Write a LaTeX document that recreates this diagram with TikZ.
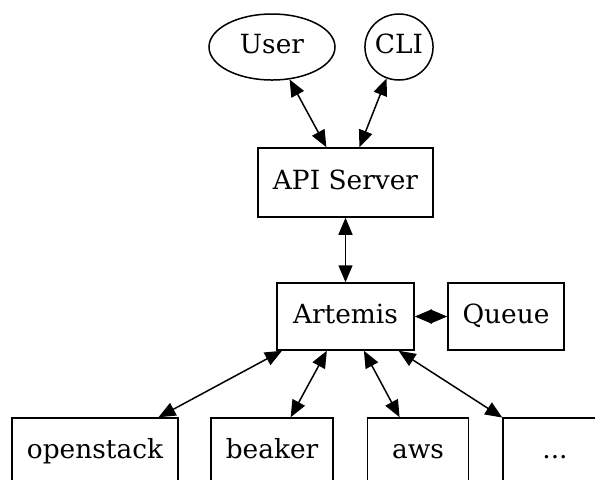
\documentclass[tikz,border=0pt]{standalone}
\usepackage{fontspec}
\setmainfont{DejaVu Serif}
\usetikzlibrary{arrows.meta,shapes.geometric}

\begin{document}
\begin{tikzpicture}[x=0.5pt, y=-0.5pt, >={Triangle[length=8.5pt,width=7pt]},
    font=\fontsize{13.2}{15}\selectfont,
    box/.style={draw, line width=0.75pt, rectangle, inner sep=0pt, minimum height=33.5pt,
      text height=9pt, text depth=2.4pt},
    oval/.style={draw, line width=0.75pt, ellipse, inner sep=0pt, minimum height=33pt,
      text height=9pt, text depth=2.2pt},
    link/.style={<->, line width=0.75pt}]
  \clip (0,0) rectangle (595,479);
  % ---- clients ----
  \node[oval, minimum width=63pt] (user) at (272,47) {User};
  \node[oval, minimum width=33pt] (cli) at (399,47) {CLI};
  % ---- server and backend ----
  \node[box, minimum width=87.5pt, minimum height=34.5pt] (api) at (345.5,182.5) {API Server};
  \node[box, minimum width=68.5pt] (artemis) at (345.5,316.5) {Artemis};
  \node[box, minimum width=58pt] (queue) at (506,316.5) {Queue};
  % ---- providers ----
  \node[box, minimum width=83pt] (openstack) at (95,451.5) {openstack};
  \node[box, minimum width=61pt] (beaker) at (272,451.5) {beaker};
  \node[box, minimum width=50.5pt] (aws) at (418,451.5) {aws};
  \node[box, minimum width=52pt] (more) at (555,451.5) {...};
  % ---- links ----
  \draw[link] (user) -- (api);
  \draw[link] (cli) -- (api);
  \draw[link] (api) -- (artemis);
  \draw[link] (artemis) -- (queue);
  \foreach \p in {openstack,beaker,aws,more}
    \draw[link] (artemis) -- (\p);
\end{tikzpicture}
\end{document}
